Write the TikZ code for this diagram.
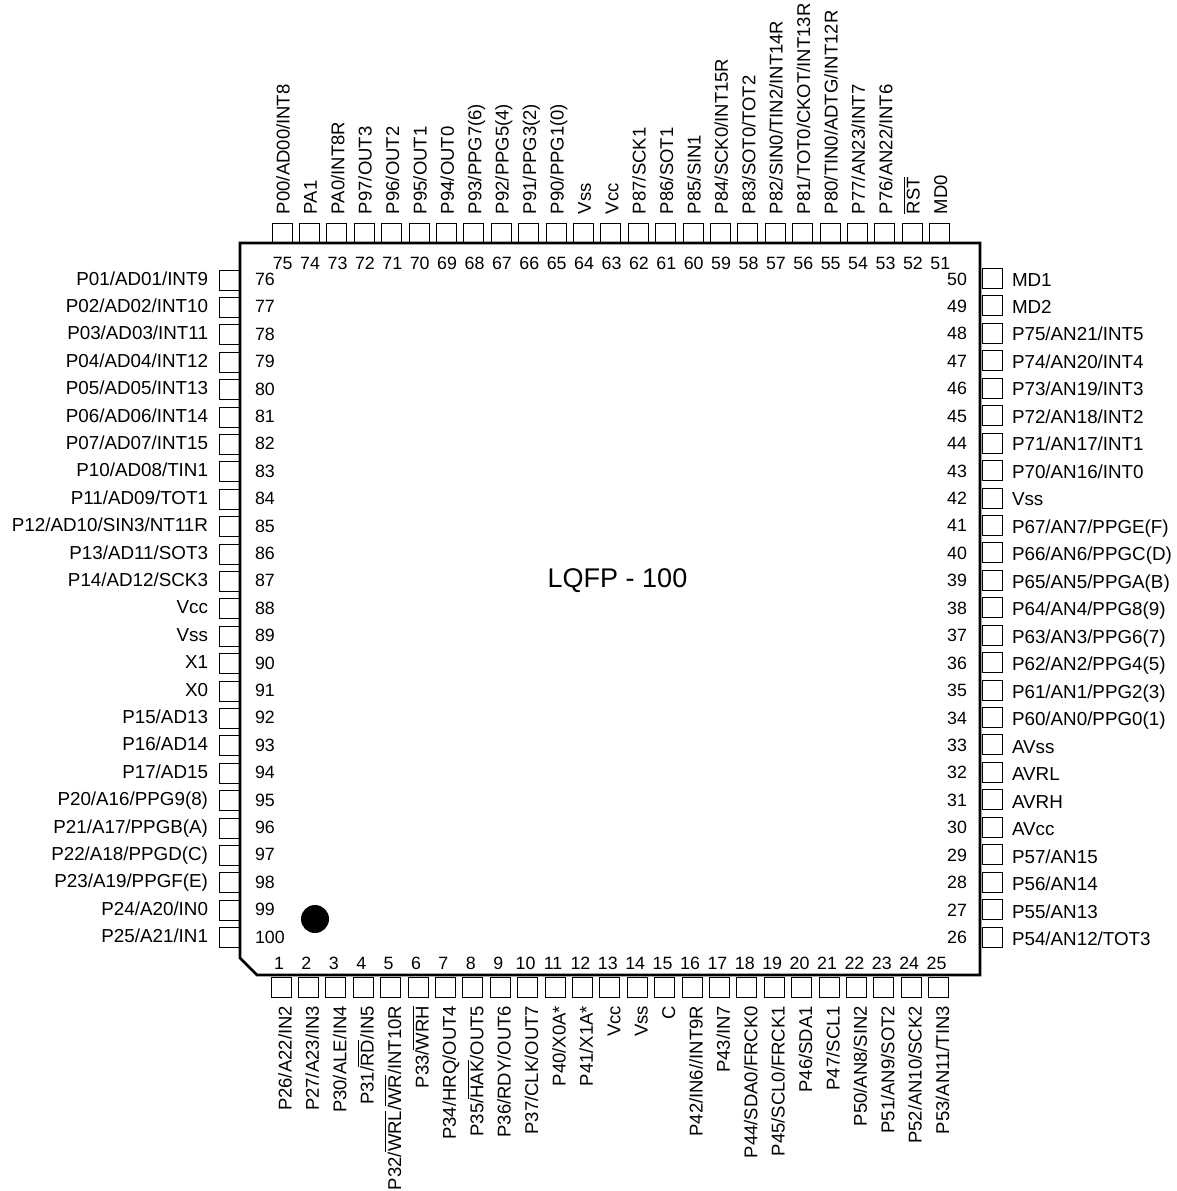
\documentclass[tikz,border=0pt]{standalone}
\usepackage{fontspec}
\setmainfont{Liberation Sans}
\newcommand\ovl[1]{\leavevmode\vbox{\hrule height .9pt \kern 2pt \hbox{#1}}}
\tikzset{
  pinbox/.style={draw=black,line width=1pt,minimum size=20pt,inner sep=0,outer sep=0},
  pinlabel/.style={inner sep=0,outer sep=0,font=\fontsize{18.8pt}{20pt}\selectfont},
  vpinlabel/.style={inner sep=0,outer sep=0,rotate=90,font=\fontsize{18.5pt}{20pt}\selectfont},
  pinnum/.style={inner sep=0,outer sep=0,font=\fontsize{17.8pt}{20pt}\selectfont},
  chipbody/.style={draw=black,line width=2.6pt,line join=miter},
  titletext/.style={inner sep=0,outer sep=0,font=\fontsize{27pt}{30pt}\selectfont}
}
\begin{document}
\begin{tikzpicture}[x=1pt,y=-1pt]
\useasboundingbox (0,0) rectangle (1177,1191);
\draw[chipbody] (240,243) -- (980,243) -- (980,975) -- (257,975) -- (240,958) -- cycle;
\fill[black] (315,919) circle (14);
\node[titletext,anchor=base] (title) at (617.5,587) {LQFP - 100};
% top: 75..51
\foreach \t [count=\i from 0] in {P00/AD00/INT8,PA1,PA0/INT8R,P97/OUT3,P96/OUT2,P95/OUT1,P94/OUT0,P93/PPG7(6),P92/PPG5(4),P91/PPG3(2),P90/PPG1(0),Vss,Vcc,P87/SCK1,P86/SOT1,P85/SIN1,P84/SCK0/INT15R,P83/SOT0/TOT2,P82/SIN0/TIN2/INT14R,P81/TOT0/CKOT/INT13R,P80/TIN0/ADTG/INT12R,P77/AN23/INT7,P76/AN22/INT6,\ovl{RST},MD0}{
  \pgfmathsetmacro\cx{282+27.4*\i}
  \pgfmathtruncatemacro\n{75-\i}
  \node[pinbox] (pin\n) at (\cx,233) {};
  \node[pinnum,anchor=base] (num\n) at (\cx+0.7,269.5) {\n};
  \node[vpinlabel,anchor=base west] (lab\n) at (\cx+7.5,214) {\t};
}
% bottom: 1..25
\foreach \t [count=\i from 0] in {P26/A22/IN2,P27/A23/IN3,P30/ALE/IN4,P31/\ovl{RD}/IN5,P32/\ovl{WRL}/\ovl{WR}/INT10R,P33/\ovl{WRH},P34/HRQ/OUT4,P35/\ovl{HAK}/OUT5,P36/RDY/OUT6,P37/CLK/OUT7,P40/X0A*,P41/X1A*,Vcc,Vss,C,P42/IN6//INT9R,P43/IN7,P44/SDA0/FRCK0,P45/SCL0/FRCK1,P46/SDA1,P47/SCL1,P50/AN8/SIN2,P51/AN9/SOT2,P52/AN10/SCK2,P53/AN11/TIN3}{
  \pgfmathsetmacro\cx{281+27.4*\i}
  \pgfmathtruncatemacro\n{1+\i}
  \node[pinbox] (pin\n) at (\cx,987) {};
  \node[pinnum,anchor=base] (num\n) at (\cx-2,969) {\n};
  \node[vpinlabel,anchor=base east] (lab\n) at (\cx+10.5,1006) {\t};
}
% left: 76..100
\foreach \t [count=\i from 0] in {P01/AD01/INT9,P02/AD02/INT10,P03/AD03/INT11,P04/AD04/INT12,P05/AD05/INT13,P06/AD06/INT14,P07/AD07/INT15,P10/AD08/TIN1,P11/AD09/TOT1,P12/AD10/SIN3/NT11R,P13/AD11/SOT3,P14/AD12/SCK3,Vcc,Vss,X1,X0,P15/AD13,P16/AD14,P17/AD15,P20/A16/PPG9(8),P21/A17/PPGB(A),P22/A18/PPGD(C),P23/A19/PPGF(E),P24/A20/IN0,P25/A21/IN1}{
  \pgfmathsetmacro\cy{280+27.4*\i}
  \pgfmathtruncatemacro\n{76+\i}
  \node[pinbox] (pin\n) at (229,\cy) {};
  \node[pinnum,anchor=base west] (num\n) at (255,\cy+5.5) {\n};
  \node[pinlabel,anchor=base east] (lab\n) at (208,\cy+5) {\t};
}
% right: 50..26
\foreach \t [count=\i from 0] in {MD1,MD2,P75/AN21/INT5,P74/AN20/INT4,P73/AN19/INT3,P72/AN18/INT2,P71/AN17/INT1,P70/AN16/INT0,Vss,P67/AN7/PPGE(F),P66/AN6/PPGC(D),P65/AN5/PPGA(B),P64/AN4/PPG8(9),P63/AN3/PPG6(7),P62/AN2/PPG4(5),P61/AN1/PPG2(3),P60/AN0/PPG0(1),AVss,AVRL,AVRH,AVcc,P57/AN15,P56/AN14,P55/AN13,P54/AN12/TOT3}{
  \pgfmathsetmacro\cy{278.5+27.44*\i}
  \pgfmathsetmacro\ty{286+27.48*\i}
  \pgfmathtruncatemacro\n{50-\i}
  \node[pinbox] (pin\n) at (992,\cy) {};
  \node[pinnum,anchor=base east] (num\n) at (967,\cy+6.5) {\n};
  \node[pinlabel,anchor=base west] (lab\n) at (1012,\ty) {\t};
}
\end{tikzpicture}
\end{document}
